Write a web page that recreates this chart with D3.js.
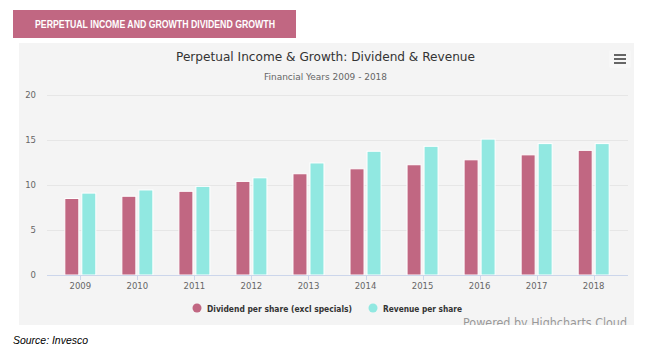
<!DOCTYPE html>
<html><head><meta charset="utf-8">
<script src="https://cdn.jsdelivr.net/npm/d3@7"></script>
<style>
html,body{margin:0;padding:0;background:#fff;}
svg{display:block;}
</style></head>
<body>
<svg id="c" width="653" height="355"></svg>
<script>
const years = ["2009","2010","2011","2012","2013","2014","2015","2016","2017","2018"];
const dividend = [8.5, 8.75, 9.3, 10.4, 11.25, 11.8, 12.25, 12.8, 13.35, 13.85];
const revenue = [9.1, 9.45, 9.85, 10.8, 12.45, 13.75, 14.3, 15.1, 14.6, 14.6];
const yTicks = [0, 5, 10, 15, 20];
const seriesNames = ["Dividend per share (excl specials)", "Revenue per share"];
const colors = ["#c16782", "#91e8e1"];

const svg = d3.select("#c");
const font = "'DejaVu Sans', Verdana, sans-serif";

// header banner
svg.append("rect").attr("x",13).attr("y",10).attr("width",283).attr("height",28).attr("fill","#c16782");
svg.append("text").attr("x",155).attr("y",28).attr("text-anchor","middle")
  .attr("font-family","'Liberation Sans', Arial, sans-serif").attr("font-weight","bold")
  .attr("font-size",10.5).attr("fill","#fff")
  .attr("textLength",240).attr("lengthAdjust","spacingAndGlyphs")
  .text("PERPETUAL INCOME AND GROWTH DIVIDEND GROWTH");

// panel
svg.append("rect").attr("x",19).attr("y",43).attr("width",615).attr("height",282).attr("fill","#f4f4f4");

const x = d3.scaleBand().domain(years).range([51.8, 622.2]);
const y = d3.scaleLinear().domain([0,20]).range([275, 95]);

// grid
const gx0 = 47, gx1 = 628;
svg.append("g").selectAll("line").data(yTicks.slice(1)).join("line")
  .attr("x1",gx0).attr("x2",gx1).attr("y1",d=>Math.round(y(d))+0.5).attr("y2",d=>Math.round(y(d))+0.5)
  .attr("stroke","#e6e6e6").attr("stroke-width",1);

// y labels
svg.append("g").selectAll("text").data(yTicks).join("text")
  .attr("x",36).attr("y",d=>y(d)+3).attr("text-anchor","end")
  .attr("font-family",font).attr("font-size",8.5).attr("fill","#666").text(d=>d);

// bars
const groups = svg.append("g").selectAll("g").data(years).join("g")
  .attr("transform",d=>`translate(${x(d)+x.bandwidth()/2},0)`);
[dividend, revenue].forEach((vals, si) => {
  groups.append("rect")
    .attr("x", si===0 ? -15.5 : 1.5)
    .attr("width", 14)
    .attr("y", (d,i)=>y(vals[i]))
    .attr("height", (d,i)=>y(0)-y(vals[i]))
    .attr("fill", colors[si]).attr("stroke","#fff").attr("stroke-width",1);
});

// x axis
svg.append("line").attr("x1",gx0).attr("x2",gx1).attr("y1",275.5).attr("y2",275.5).attr("stroke","#ccd6eb");
svg.append("g").selectAll("line").data(years).join("line")
  .attr("x1",d=>Math.round(x(d)+x.bandwidth()/2)+0.5).attr("x2",d=>Math.round(x(d)+x.bandwidth()/2)+0.5)
  .attr("y1",275).attr("y2",280).attr("stroke","#ccd6eb");
svg.append("g").selectAll("text").data(years).join("text")
  .attr("x",d=>x(d)+x.bandwidth()/2).attr("y",288.5).attr("text-anchor","middle")
  .attr("font-family",font).attr("font-size",8.5).attr("fill","#666").text(d=>d);

// title
svg.append("text").attr("x",325.5).attr("y",61).attr("text-anchor","middle")
  .attr("font-family",font).attr("font-size",13).attr("fill","#333")
  .attr("textLength",299).attr("lengthAdjust","spacingAndGlyphs")
  .text("Perpetual Income & Growth: Dividend & Revenue");
svg.append("text").attr("x",325.5).attr("y",80).attr("text-anchor","middle")
  .attr("font-family",font).attr("font-size",9).attr("fill","#666")
  .attr("textLength",123).attr("lengthAdjust","spacingAndGlyphs")
  .text("Financial Years 2009 - 2018");

// menu icon
svg.append("rect").attr("x",609).attr("y",50).attr("width",22).attr("height",18).attr("rx",2).attr("fill","#f7f7f7");
[55,59,63].forEach(yy=>svg.append("line").attr("x1",614).attr("x2",626).attr("y1",yy).attr("y2",yy)
  .attr("stroke","#666").attr("stroke-width",2));

// legend
const legendItems = [
  {name:seriesNames[0],c:colors[0],x:197,w:145},
  {name:seriesNames[1],c:colors[1],x:373,w:79}
];
const lg = svg.append("g").selectAll("g").data(legendItems).join("g");
lg.append("circle").attr("cx",d=>d.x).attr("cy",308).attr("r",4.5).attr("fill",d=>d.c);
lg.append("text").attr("x",d=>d.x+10).attr("y",311.5).attr("font-family",font).attr("font-weight","bold")
  .attr("font-size",8.5).attr("fill","#333")
  .attr("textLength",d=>d.w).attr("lengthAdjust","spacingAndGlyphs").text(d=>d.name);

// credits (clipped by panel)
svg.append("clipPath").attr("id","pc").append("rect").attr("x",19).attr("y",43).attr("width",615).attr("height",282);
svg.append("text").attr("x",627).attr("y",327).attr("text-anchor","end").attr("clip-path","url(#pc)")
  .attr("font-family",font).attr("font-size",11.5).attr("fill","#999")
  .attr("textLength",164).attr("lengthAdjust","spacingAndGlyphs").text("Powered by Highcharts Cloud");

// source
svg.append("text").attr("x",13).attr("y",344).attr("font-family","'Liberation Sans', Arial, sans-serif")
  .attr("font-style","italic").attr("font-size",11.5).attr("fill","#000")
  .attr("textLength",75).attr("lengthAdjust","spacingAndGlyphs").text("Source: Invesco");
</script>
</body></html>
